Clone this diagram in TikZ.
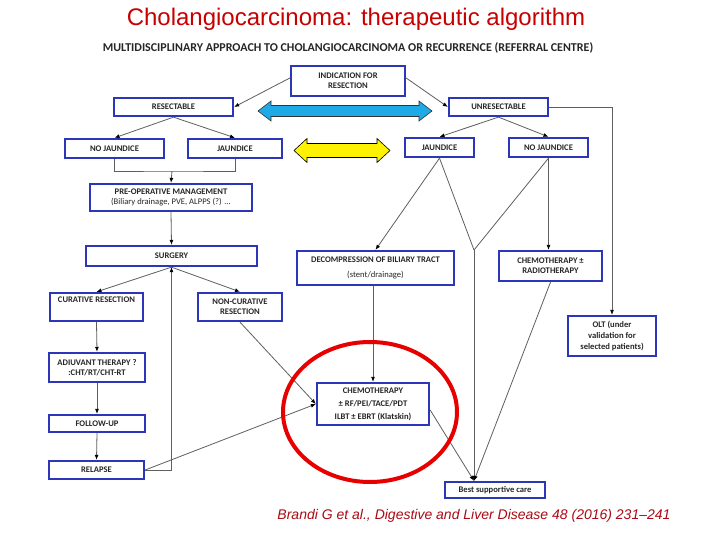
\documentclass[tikz,border=0pt]{standalone}
\usepackage{fontspec}
\setmainfont{Carlito}
\newfontfamily\arialf{Liberation Sans}
\usetikzlibrary{arrows.meta}
\definecolor{boxblue}{RGB}{44,54,186}
\definecolor{linegray}{RGB}{95,95,95}
\definecolor{titlered}{RGB}{200,0,0}
\definecolor{citered}{RGB}{170,10,20}
\definecolor{arrowblue}{RGB}{30,170,230}
\definecolor{ringred}{RGB}{230,0,0}
\newcommand{\mybox}[6]{\node[box, minimum width={(#4-#2)*1pt}, minimum height={(#5-#3)*1pt}] (#1) at ({(#2+#4)/2},{(#3+#5)/2}) {#6};}
\begin{document}
\begin{tikzpicture}[x=1pt,y=-1pt,
  box/.style={draw=boxblue, line width=2.3pt, fill=white, inner sep=0pt, align=center,
    font=\bfseries\fontsize{8.6}{10}\selectfont, text=black!85},
  conn/.style={draw=linegray, line width=0.8pt, -{Latex[length=5pt,width=4pt,color=black]}},
  plain/.style={draw=linegray, line width=0.8pt}]
\useasboundingbox[fill=white] (0,0) rectangle (720,540);

% titles
\node[font=\arialf\fontsize{24}{28}\selectfont, text=titlered] (title) at (356,19) {Cholangiocarcinoma: therapeutic algorithm};
\node[font=\bfseries\fontsize{12}{14}\selectfont, text=black!85] (sub) at (348,48) {MULTIDISCIPLINARY APPROACH TO CHOLANGIOCARCINOMA OR RECURRENCE (REFERRAL CENTRE)};
\node[font=\arialf\itshape\fontsize{14}{16}\selectfont, text=citered] (cite) at (474,516) {Brandi G et al., Digestive and Liver Disease 48 (2016) 231–241};

% boxes
\mybox{ind}{291}{66}{405}{96}{INDICATION FOR\\RESECTION}
\mybox{res}{114}{98}{233}{116}{RESECTABLE}
\mybox{unres}{449}{98}{548}{116}{UNRESECTABLE}
\mybox{njL}{65}{139}{164}{158}{NO JAUNDICE}
\mybox{jL}{188}{139}{282}{158}{JAUNDICE}
\mybox{pre}{90}{184}{252}{211}{PRE-OPERATIVE MANAGEMENT\\{\mdseries (Biliary drainage, PVE, ALPPS (?) ...}}
\mybox{surg}{86}{246}{257}{266}{SURGERY}
\mybox{cur}{50}{293}{143}{321}{CURATIVE RESECTION\\[5pt]~}
\mybox{ncur}{198}{293}{282}{321}{NON-CURATIVE\\RESECTION}
\mybox{adj}{49}{353}{145}{382}{ADIUVANT THERAPY ?\\:CHT/RT/CHT-RT}
\mybox{fol}{49}{415}{145}{432}{FOLLOW-UP}
\mybox{rel}{49}{461}{144}{479}{RELAPSE}
\mybox{jR}{405}{138}{474}{157}{JAUNDICE}
\mybox{njR}{509}{138}{588}{157}{NO JAUNDICE}
\mybox{dec}{297}{251}{454}{285}{DECOMPRESSION OF BILIARY TRACT\\[5pt]{\mdseries (stent/drainage)}}
\mybox{crt}{499}{251}{602}{281}{CHEMOTHERAPY ±\\RADIOTHERAPY}
\mybox{olt}{568}{316}{656}{356}{OLT (under\\[1pt]validation for\\[1pt]selected patients)}
\mybox{chemo}{317}{383}{429}{425}{CHEMOTHERAPY\\[3pt]± RF/PEI/TACE/PDT\\[3pt]ILBT ± EBRT (Klatskin)}
\mybox{bsc}{445}{482}{545}{498}{Best supportive care}

% double arrows
\filldraw[fill=arrowblue, draw=black!80, line width=0.6pt] (258,111) -- (271,101) -- (271,105.5) -- (419,105.5) -- (419,101) -- (432,111) -- (419,121) -- (419,116.5) -- (271,116.5) -- (271,121) -- cycle;
\filldraw[fill=yellow, draw=black, line width=0.6pt] (294,150.5) -- (307,138.5) -- (307,143.5) -- (377,143.5) -- (377,138.5) -- (390,150.5) -- (377,162.5) -- (377,157.5) -- (307,157.5) -- (307,162.5) -- cycle;

% connectors
\coordinate (jn) at (172,171);
\coordinate (m) at (474,250);
\draw[conn] ([yshift=3pt]ind.west) -- (res.east);
\draw[conn] ([yshift=3pt]ind.east) -- (unres.west);
\draw[conn] (res.south) -- (njL.north);
\draw[conn] (res.south) -- (jL.north);
\draw[plain] (njL.south) |- (jn) -| (jL.south);
\draw[conn] (jn) -- (pre.north);
\draw[conn] (pre.south) -- (surg.north);
\draw[conn] (surg.south) -- (cur.north);
\draw[conn] (surg.south) -- (ncur.north);
\draw[conn] (cur.south) -- (adj.north);
\draw[conn] (adj.south) -- (fol.north);
\draw[conn] (fol.south) -- (rel.north);
\draw[conn] (rel.east) -| (surg.south);
\draw[conn] (rel.east) -- (chemo.west);
\draw[conn] (ncur.south) -- (chemo.west);
\draw[conn] (unres.south) -- (jR.north);
\draw[conn] (unres.south) -- (njR.north);
\draw[conn] (unres.east) -| (olt.north);
\draw[conn] (jR.south) -- (dec.north);
\draw[plain] (jR.south) -- (m);
\draw[plain] (njR.south) -- (m);
\draw[conn] (njR.south) -- (njR.south |- crt.north);
\draw[conn] (m) -- (m |- bsc.north);
\draw[conn] (crt.south) -- (m |- bsc.north);
\draw[conn] ([yshift=-6pt]chemo.east) -- (m |- bsc.north);
\draw[conn] (chemo.north |- dec.south) -- (chemo.north);

% red ring
\draw[ringred, line width=4pt] (370,412) ellipse [x radius=87, y radius=70];
\end{tikzpicture}
\end{document}
